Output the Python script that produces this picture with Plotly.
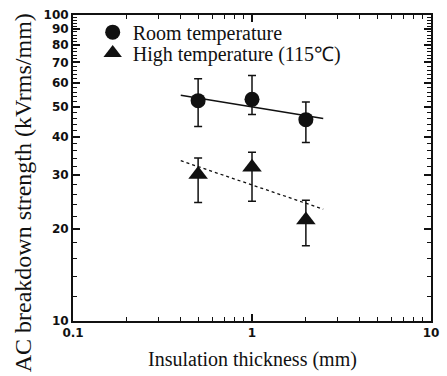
import plotly.graph_objects as go

# ---- data ----
thickness = [0.5, 1.0, 2.0]
room = [52.5, 53.0, 45.5]
room_err_plus = [9.4, 10.4, 6.5]
room_err_minus = [9.3, 5.7, 7.2]
high = [30.1, 31.8, 21.4]
high_err_plus = [4.0, 3.8, 3.4]
high_err_minus = [5.7, 7.2, 3.8]
fit_x = [0.4, 2.5]
room_fit = [54.7, 45.9]
high_fit = [33.4, 23.2]

x_ticks = [0.1, 1, 10]
x_ticklabels = ["0.1", "1", "10"]
x_minor = [0.2, 0.3, 0.4, 0.5, 0.6, 0.7, 0.8, 0.9, 2, 3, 4, 5, 6, 7, 8, 9]
y_ticks = [10, 20, 30, 40, 50, 60, 70, 80, 90, 100]
y_minor = [v for v in range(12, 100, 2) if v % 10 != 0]

BLACK = "#111111"
SERIF = "Liberation Serif, Times New Roman, serif"
SANS = "DejaVu Sans, Arial, sans-serif"

fig = go.Figure()

fig.add_trace(go.Scatter(
    x=fit_x, y=room_fit, mode="lines",
    line=dict(color=BLACK, width=1.5), showlegend=False, hoverinfo="skip"))
fig.add_trace(go.Scatter(
    x=fit_x, y=high_fit, mode="lines",
    line=dict(color=BLACK, width=1.3, dash="dot"), showlegend=False, hoverinfo="skip"))

fig.add_trace(go.Scatter(
    x=thickness, y=room, mode="markers", name="Room temperature",
    marker=dict(symbol="circle", size=15, color=BLACK),
    error_y=dict(type="data", symmetric=False, array=room_err_plus,
                 arrayminus=room_err_minus, color=BLACK, thickness=1.5, width=4),
    legend="legend"))
fig.add_trace(go.Scatter(
    x=thickness, y=high, mode="markers", name="High temperature (115℃)",
    marker=dict(symbol="triangle-up", size=17, color=BLACK),
    error_y=dict(type="data", symmetric=False, array=high_err_plus,
                 arrayminus=high_err_minus, color=BLACK, thickness=1.5, width=4),
    legend="legend2"))

axis_common = dict(
    showline=True, linecolor=BLACK, linewidth=2, mirror="ticks",
    ticks="inside", ticklen=7, tickwidth=1.5, tickcolor=BLACK,
    showgrid=False, zeroline=False,
    tickfont=dict(family=SANS, size=12, color=BLACK, weight="bold"),
)

fig.update_xaxes(
    type="log", range=[-1, 1], tickmode="array", tickvals=x_ticks,
    ticktext=x_ticklabels,
    minor=dict(tickmode="array", tickvals=x_minor, ticks="inside",
               ticklen=4, tickwidth=1.2, tickcolor=BLACK),
    **axis_common)
fig.update_yaxes(
    type="log", range=[1, 2], tickmode="array", tickvals=y_ticks,
    ticktext=[str(v) for v in y_ticks],
    minor=dict(tickmode="array", tickvals=y_minor, ticks="inside",
               ticklen=4, tickwidth=1.2, tickcolor=BLACK),
    **axis_common)

fig.add_annotation(
    text="AC breakdown strength (kVrms/mm)", textangle=-90,
    xref="paper", yref="paper", x=-0.139, y=0.418,
    xanchor="center", yanchor="middle", showarrow=False,
    font=dict(family=SERIF, size=24, color=BLACK))
fig.add_annotation(
    text="Insulation thickness (mm)",
    xref="paper", yref="paper", x=0.5, y=-0.125,
    xanchor="center", yanchor="middle", showarrow=False,
    font=dict(family=SERIF, size=20, color=BLACK))

legend_common = dict(
    bgcolor="rgba(0,0,0,0)", borderwidth=0,
    font=dict(family=SERIF, size=20, color=BLACK),
    xanchor="left", yanchor="middle", x=0.055)

fig.update_layout(
    width=447, height=376,
    margin=dict(l=73, r=8, t=14, b=55),
    paper_bgcolor="white", plot_bgcolor="white",
    legend=dict(y=0.944, **legend_common),
    legend2=dict(y=0.876, **legend_common),
)

fig.write_html(
    "out.html",
    config={"displayModeBar": False},
    post_script="document.body.style.margin='0';document.body.style.padding='0';",
)
